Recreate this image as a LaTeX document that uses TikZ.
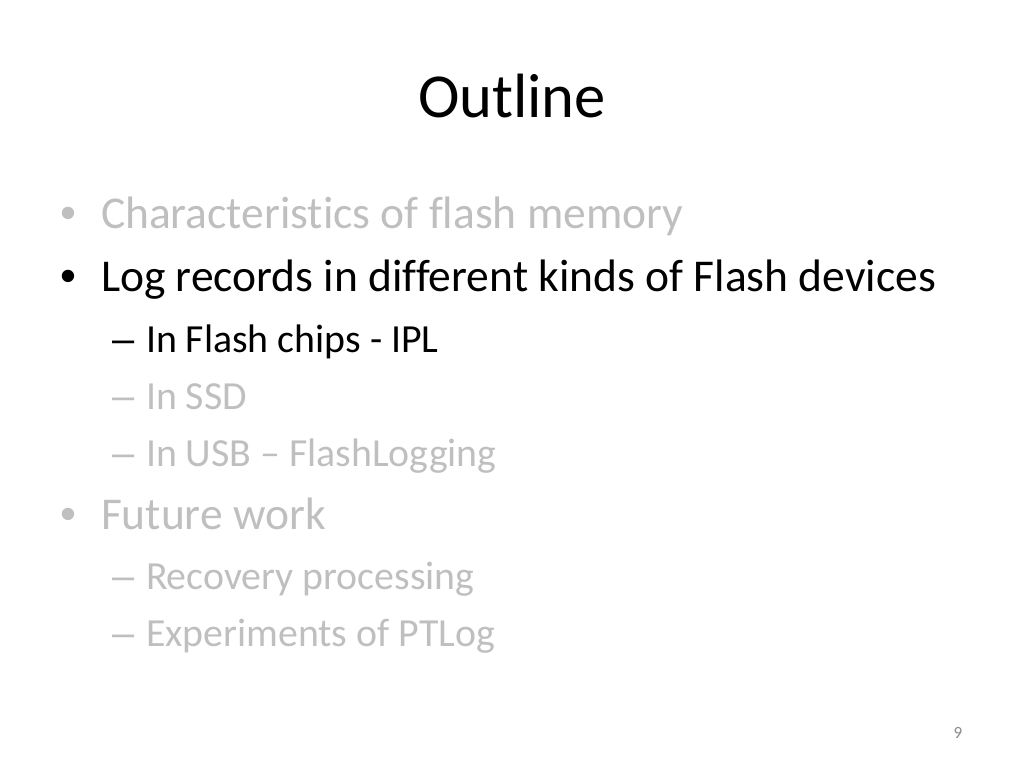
\documentclass[tikz,border=0pt]{standalone}
\usepackage{fontspec}
\setmainfont{Carlito}[Ligatures=NoCommon]
\newfontfamily\bulletfont{Liberation Sans}
\usepackage{tikz}
\usetikzlibrary{positioning}
\definecolor{dimgray}{HTML}{BFBFBF}
\definecolor{numgray}{HTML}{898989}

\begin{document}
\begin{tikzpicture}[x=0.703125pt, y=-0.703125pt,
	every node/.style={inner sep=0pt, outer sep=0pt, anchor=base west},
	lvlone/.style={font=\fontsize{32}{38}\selectfont},
	lvltwo/.style={font=\fontsize{28}{34}\selectfont},
	mark1/.style={font=\bulletfont\fontsize{32}{38}\selectfont},
	mark2/.style={font=\bulletfont\fontsize{28}{34}\selectfont},
	dim/.style={text=dimgray}, hot/.style={text=black}]
	\useasboundingbox (0,0) rectangle (1024,768);
	\node[anchor=base, font=\fontsize{44}{52}\selectfont] (title) at (512,118) {Outline};
	
	\node[mark1, dim] (b1) at (60,229) {•};
	\node[lvlone, dim] (t1) at (101,229) {Characteristics of flash memory};
	\node[mark1, hot] (b2) at (60,292) {•};
	\node[lvlone, hot] (t2) at (101,292) {Log records in different kinds of Flash devices};
	\node[mark2, hot] (d21) at (112,352) {–};
	\node[lvltwo, hot] (t21) at (146,352) {In Flash chips - IPL};
	\node[mark2, dim] (d22) at (112,409) {–};
	\node[lvltwo, dim] (t22) at (146,409) {In SSD};
	\node[mark2, dim] (d23) at (112,466) {–};
	\node[lvltwo, dim] (t23) at (146,466) {In USB – FlashLogging};
	\node[mark1, dim] (b3) at (60,529) {•};
	\node[lvlone, dim] (t3) at (101,529) {Future work};
	\node[mark2, dim] (d31) at (112,589) {–};
	\node[lvltwo, dim] (t31) at (146,589) {Recovery processing};
	\node[mark2, dim] (d32) at (112,646) {–};
	\node[lvltwo, dim] (t32) at (146,646) {Experiments of PTLog};
	
	\node[anchor=base, text=numgray, font=\fontsize{12}{14}\selectfont] (pagenum) at (958,738) {9};
\end{tikzpicture}
\end{document}
